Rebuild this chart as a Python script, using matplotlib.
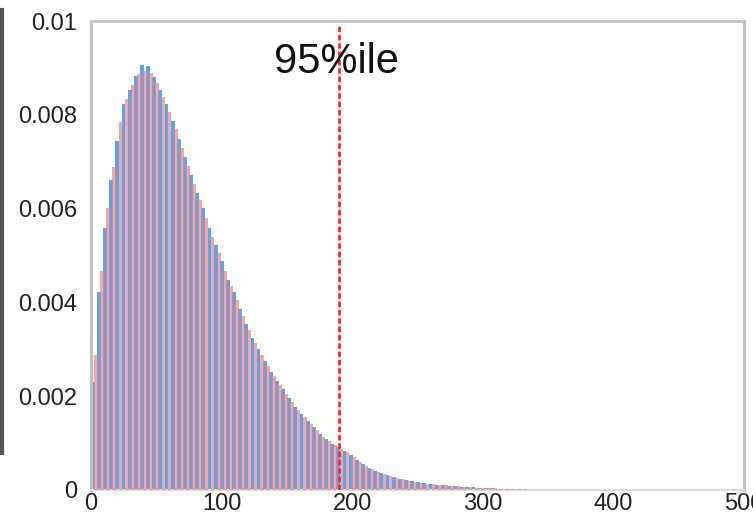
import matplotlib
matplotlib.use("Agg")
import matplotlib.pyplot as plt
from matplotlib.lines import Line2D
import numpy as np

plt.rcParams['font.family'] = ['Liberation Sans', 'DejaVu Sans']

bin_width = 4.7
blue_values = [
    0.00231, 0.00422, 0.00559, 0.00662, 0.00745, 0.00822, 0.00852, 0.00882, 0.00907, 0.00905,
    0.00880, 0.00852, 0.00822, 0.00787, 0.00748, 0.00710, 0.00672, 0.00633, 0.00602, 0.00559,
    0.00522, 0.00488, 0.00447, 0.00422, 0.00385, 0.00355, 0.00325, 0.00300, 0.00276, 0.00252,
    0.00232, 0.00215, 0.00196, 0.00178, 0.00163, 0.00147, 0.00134, 0.00119, 0.00108, 0.00099,
    0.00092, 0.00084, 0.00075, 0.00064, 0.00055, 0.00047, 0.00041, 0.00036, 0.00031, 0.00027,
    0.00024, 0.00021, 0.00019, 0.00016, 0.00014, 0.00012, 0.00011, 0.00010, 0.00009, 0.00008,
    0.00007, 0.00006, 0.00006, 0.00005, 0.00004, 0.00004, 0.00003, 0.00003, 0.00002, 0.00002,
    0.00002, 0.00001, 0.00001, 0.00001, 0.00001,
]
red_values = [
    0.00287, 0.00467, 0.00602, 0.00689, 0.00784, 0.00833, 0.00863, 0.00886, 0.00893, 0.00890,
    0.00868, 0.00838, 0.00806, 0.00770, 0.00730, 0.00690, 0.00652, 0.00618, 0.00580, 0.00540,
    0.00505, 0.00468, 0.00436, 0.00405, 0.00372, 0.00341, 0.00313, 0.00288, 0.00264, 0.00243,
    0.00224, 0.00205, 0.00188, 0.00171, 0.00155, 0.00141, 0.00127, 0.00114, 0.00104, 0.00096,
    0.00088, 0.00080, 0.00070, 0.00060, 0.00052, 0.00045, 0.00039, 0.00034, 0.00030, 0.00026,
    0.00023, 0.00020, 0.00018, 0.00015, 0.00013, 0.00012, 0.00011, 0.00010, 0.00009, 0.00008,
    0.00007, 0.00006, 0.00005, 0.00005, 0.00004, 0.00004, 0.00003, 0.00003, 0.00002, 0.00002,
    0.00002, 0.00001, 0.00001, 0.00001, 0.00001,
]
percentile_95 = 190
x_ticks = [0, 100, 200, 300, 400, 500]
y_ticks = [0, 0.002, 0.004, 0.006, 0.008, 0.01]
y_tick_labels = ["0", "0.002", "0.004", "0.006", "0.008", "0.01"]

W, H = 753, 519
fig = plt.figure(figsize=(W / 100, H / 100), dpi=100)
ax = fig.add_axes([91 / W, 1 - 490 / H, (744 - 91) / W, (490 - 21) / H])

n = len(blue_values)
left_edges = np.arange(n) * bin_width
ax.bar(left_edges + 0.3 * bin_width, blue_values, width=0.62 * bin_width,
       color='#4f9eea', alpha=0.92, linewidth=0, zorder=2)
ax.bar(left_edges + 0.8 * bin_width, red_values, width=0.62 * bin_width,
       color='#f28080', alpha=0.7, linewidth=0, zorder=3)

ax.axvline(percentile_95, ymax=0.99, color='#ff2a2a', linestyle=(0, (2, 1)), linewidth=2, zorder=4)
ax.text(percentile_95 - 50, 0.0089, "95%ile", fontsize=30, color='#111111',
        ha='left', va='baseline', zorder=5)

ax.set_xlim(0, 500)
ax.set_ylim(0, 0.01)
ax.set_xticks(x_ticks)
ax.set_xticklabels([str(v) for v in x_ticks])
ax.set_yticks(y_ticks)
ax.set_yticklabels(y_tick_labels)
ax.tick_params(axis='both', length=0, colors='#222222')
ax.tick_params(axis='y', labelsize=17, pad=10)
ax.tick_params(axis='x', labelsize=17, pad=2)

for side, col, lw in [('left', '#bfbfbf', 2.2), ('top', '#c4c4c4', 2.0),
                      ('right', '#bfbfbf', 2.2), ('bottom', '#dcdcdc', 1.5)]:
    ax.spines[side].set_color(col)
    ax.spines[side].set_linewidth(lw)

# fragment of neighbouring chart at the left edge
fig.add_artist(Line2D([2 / W, 2 / W], [1 - 10 / H, 1 - 453 / H], color='#555555', linewidth=3,
                      transform=fig.transFigure))

fig.savefig("out.png", dpi=100)
